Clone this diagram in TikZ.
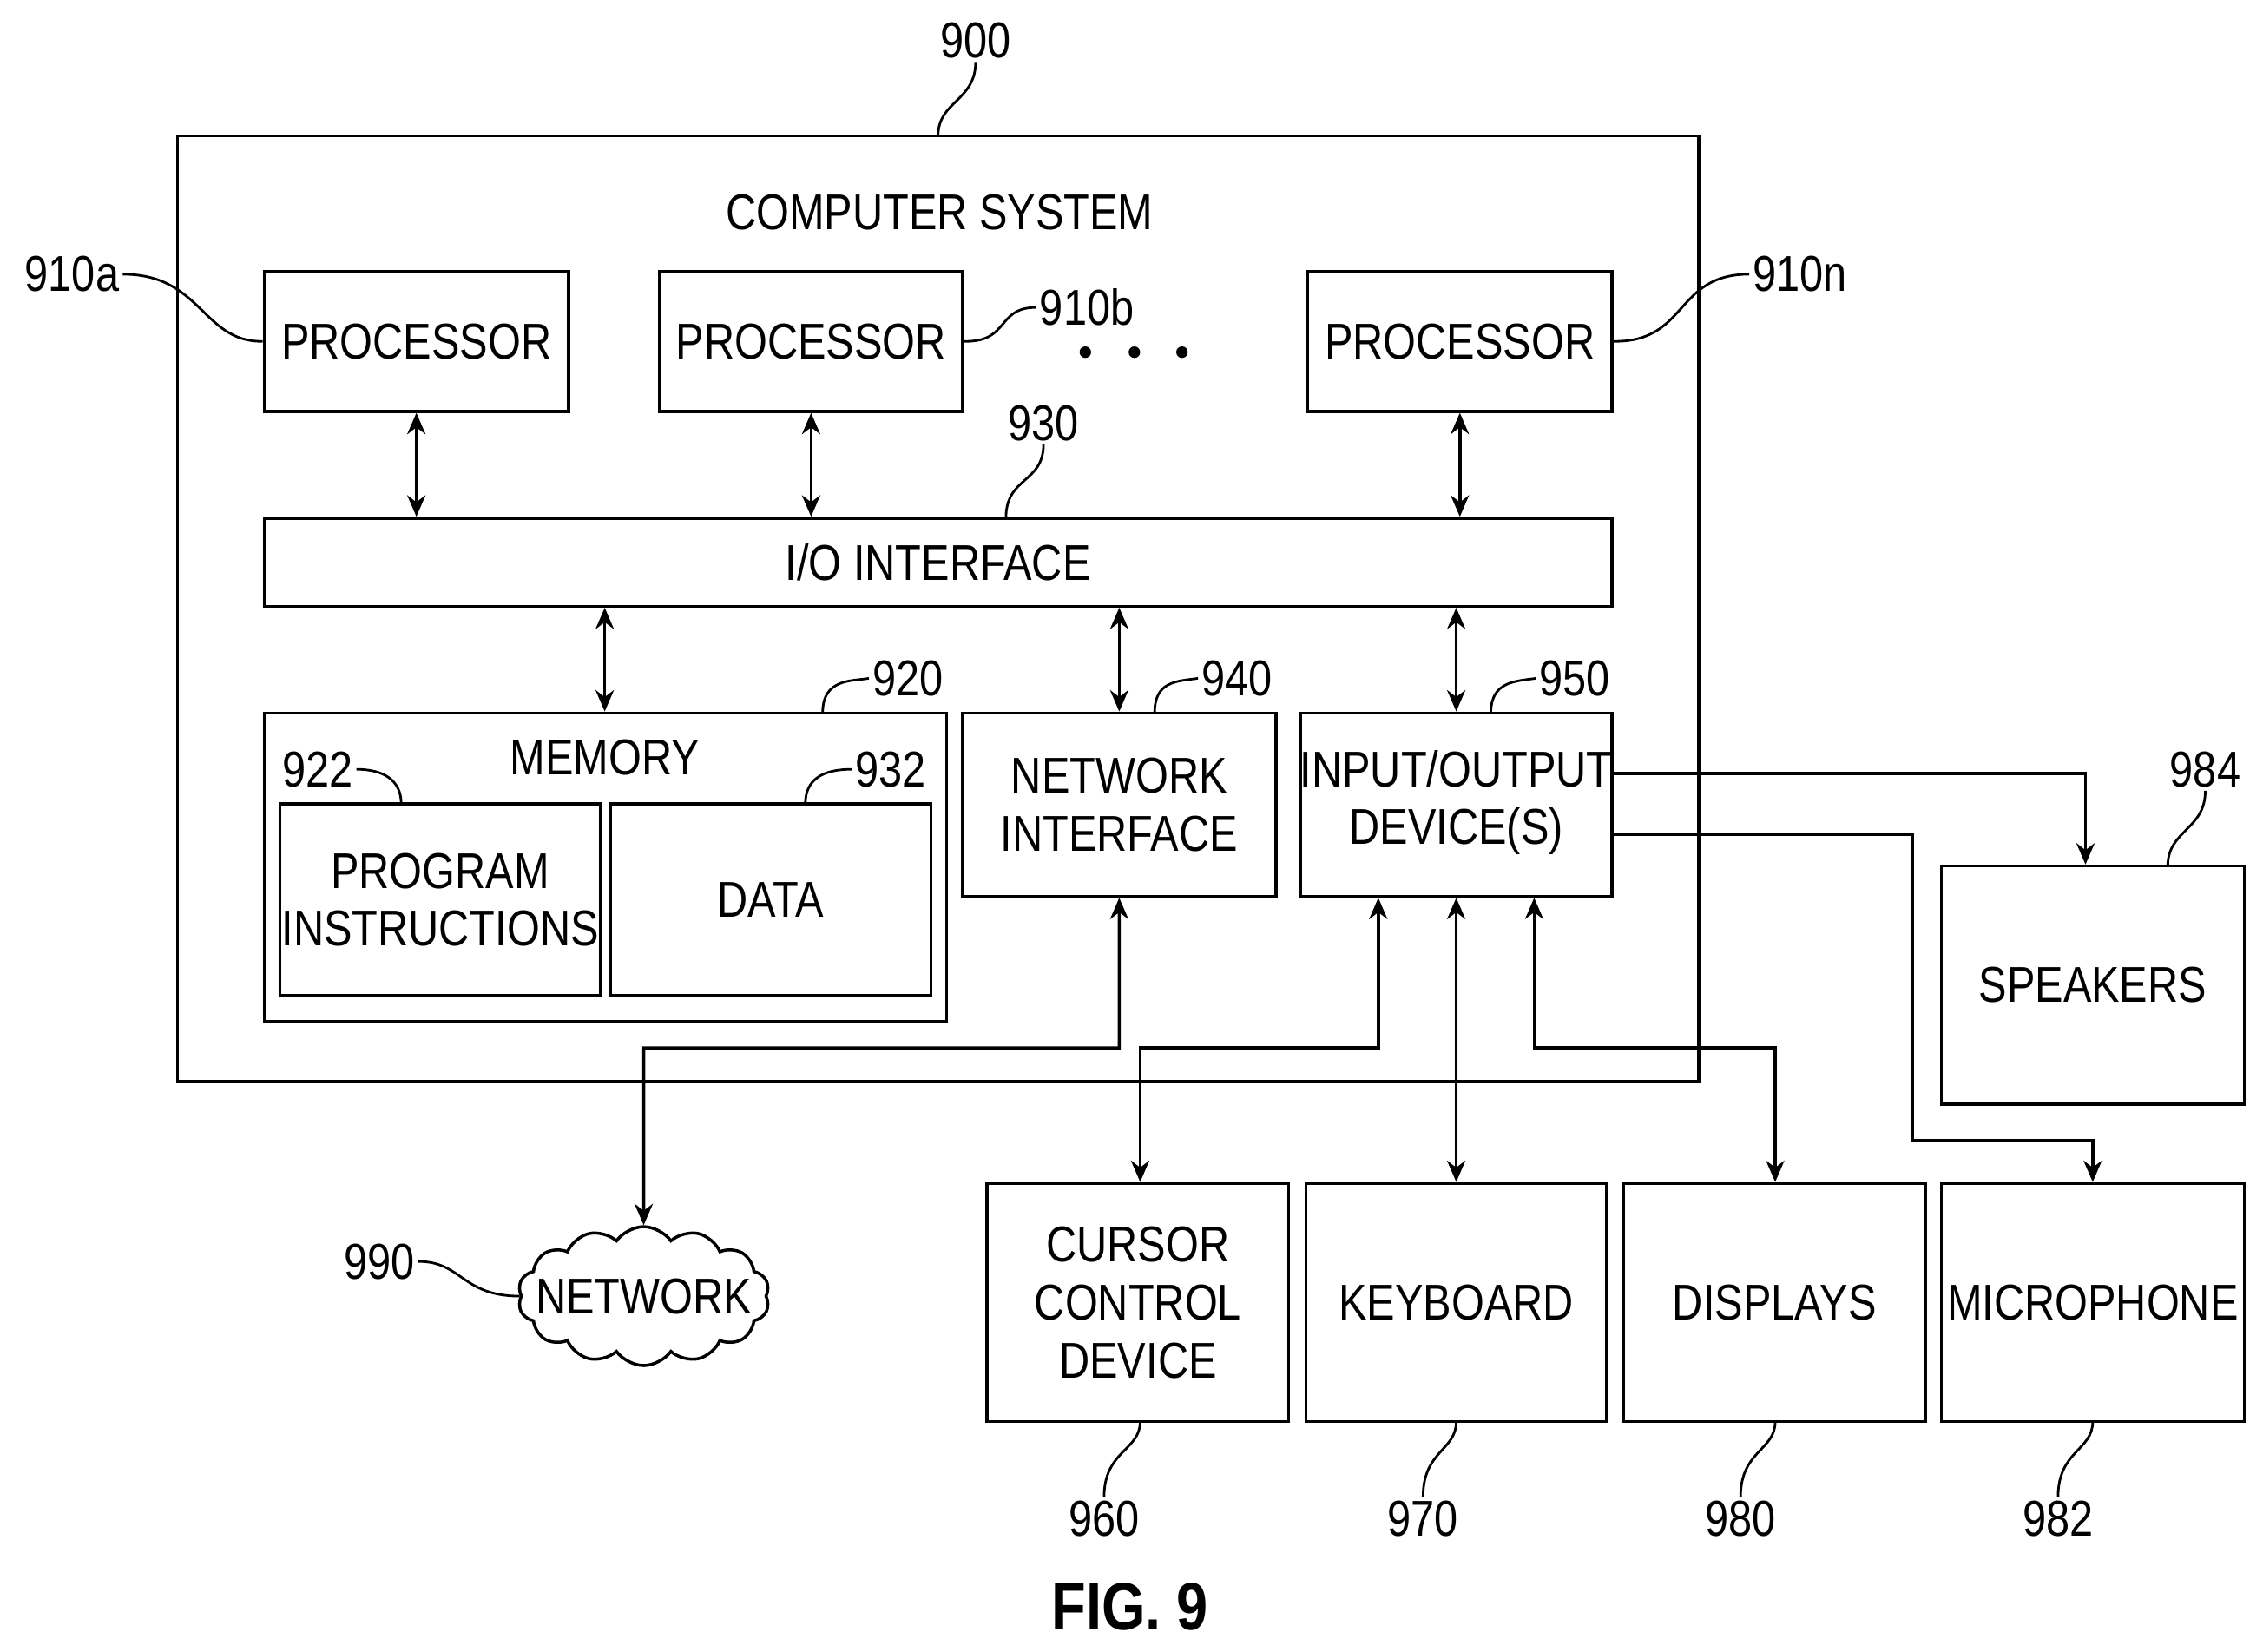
\documentclass[tikz,border=0pt]{standalone}
\usepackage{fontspec}
\setmainfont[FakeStretch=0.84]{Liberation Sans}
\usetikzlibrary{fit,arrows.meta,shapes.symbols}
\tikzset{
  box/.style={draw,line width=1pt,inner sep=0pt},
  txt/.style={align=center,font=\fontsize{16.5}{19}\selectfont,inner sep=0pt},
  num/.style={font=\fontsize{16.5}{19}\selectfont,inner sep=1pt},
  lead/.style={line width=0.8pt},
  link/.style={line width=1pt,{Stealth[length=7pt,width=6pt]}-{Stealth[length=7pt,width=6pt]}},
  flow/.style={line width=1pt,-{Stealth[length=7pt,width=6pt]}}
}
\begin{document}
\begin{tikzpicture}[x=0.01663cm,y=-0.01663cm]
    \useasboundingbox (0,0) rectangle (1568,1144);
    % computer system
    \node[box,fit={(123,94)(1177,749)}] (sys) {};
    \node[num] (l900) at (676,28) {900};
    \node[num] (title) at (651,147) {COMPUTER SYSTEM};
    \node[box,fit={(183,188)(394,285)},label={[txt]center:PROCESSOR}] (pa) {};
    \node[box,fit={(457,188)(667,285)},label={[txt]center:PROCESSOR}] (pb) {};
    \node[box,fit={(906,188)(1117,285)},label={[txt]center:PROCESSOR}] (pn) {};
    \foreach \x in {752,786,819} \fill (\x,244) circle (4);
    \node[box,fit={(183,359)(1117,420)},label={[txt]center:I/O INTERFACE}] (io) {};
    \node[box,fit={(183,494)(656,708)}] (mem) {};
    \node[num] (memt) at (419,525) {MEMORY};
    \node[box,fit={(194,557)(416,690)},label={[txt]center:PROGRAM\\INSTRUCTIONS}] (prog) {};
    \node[box,fit={(423,557)(645,690)},label={[txt]center:DATA}] (data) {};
    \node[box,fit={(667,494)(884,621)},label={[txt]center:NETWORK\\INTERFACE}] (ni) {};
    \node[box,fit={(901,494)(1117,621)}] (iod) {};
    \node[txt] (iodt) at (1009,556) {INPUT/OUTPUT\\DEVICE(S)};
    % peripherals
    \node[box,fit={(1345,600)(1555,765)},label={[txt]center:SPEAKERS}] (spk) {};
    \node[box,fit={(684,820)(893,985)},label={[txt]center:CURSOR\\CONTROL\\DEVICE}] (cur) {};
    \node[box,fit={(905,820)(1113,985)},label={[txt]center:KEYBOARD}] (kbd) {};
    \node[box,fit={(1125,820)(1334,985)},label={[txt]center:DISPLAYS}] (dsp) {};
    \node[box,fit={(1345,820)(1555,985)},label={[txt]center:MICROPHONE}] (mic) {};
    \node[draw,line width=1pt,cloud,cloud puffs=14,cloud puff arc=110,aspect=1.9,
          minimum width=2.9cm,minimum height=1.6cm,inner sep=0pt] (net) at (446,898) {};
    \node[txt] (nett) at (446,898) {NETWORK};
    % reference numerals
    \node[num,anchor=east] (l910a) at (85,190) {910a};
    \node[num,anchor=west] (l910b) at (718,213) {910b};
    \node[num,anchor=west] (l910n) at (1212,190) {910n};
    \node[num] (l930) at (723,293) {930};
    \node[num] (l920) at (629,470) {920};
    \node[num] (l922) at (220,533) {922};
    \node[num] (l932) at (617,533) {932};
    \node[num] (l940) at (857,470) {940};
    \node[num] (l950) at (1091,470) {950};
    \node[num] (l984) at (1528,533) {984};
    \node[num] (l960) at (765,1052) {960};
    \node[num] (l970) at (986,1052) {970};
    \node[num] (l980) at (1206,1052) {980};
    \node[num] (l982) at (1426,1052) {982};
    \node[num,anchor=east] (l990) at (290,874) {990};
    \node[font=\bfseries\fontsize{22}{24}\selectfont] (fig) at (783,1113) {FIG. 9};
    % leaders
    \draw[lead] (650,94) .. controls (650,70) and (676,70) .. (l900.south);
    \draw[lead] (l910a.east) .. controls (140,190) and (140,237) .. (pa.west);
    \draw[lead] (pb.east) .. controls (700,237) and (690,213) .. (l910b.west);
    \draw[lead] (pn.east) .. controls (1170,237) and (1160,190) .. (l910n.west);
    \draw[lead] (697,359) .. controls (697,330) and (723,335) .. (l930.south);
    \draw[lead] (570,494) .. controls (570,470) and (590,472) .. (l920.west);
    \draw[lead] (l922.east) .. controls (265,533) and (278,540) .. (278,557);
    \draw[lead] (558,557) .. controls (558,540) and (570,533) .. (l932.west);
    \draw[lead] (800,494) .. controls (800,472) and (815,472) .. (l940.west);
    \draw[lead] (1033,494) .. controls (1033,472) and (1050,472) .. (l950.west);
    \draw[lead] (1502,600) .. controls (1502,575) and (1528,575) .. (l984.south);
    \draw[lead] (790,985) .. controls (790,1005) and (765,1005) .. (l960.north);
    \draw[lead] (1009,985) .. controls (1009,1005) and (986,1005) .. (l970.north);
    \draw[lead] (1230,985) .. controls (1230,1005) and (1206,1005) .. (l980.north);
    \draw[lead] (1450,985) .. controls (1450,1005) and (1426,1005) .. (l982.north);
    \draw[lead] (l990.east) .. controls (320,874) and (320,898) .. (net.west);
    % connections
    \draw[link] (pa.south) -- (io.north -| pa.south);
    \draw[link] (pb.south) -- (io.north -| pb.south);
    \draw[link] (pn.south) -- (io.north -| pn.south);
    \draw[link] (io.south -| 419,0) -- (mem.north -| 419,0);
    \draw[link] (io.south -| ni.north) -- (ni.north);
    \draw[link] (io.south -| iod.north) -- (iod.north);
    \draw[link] (ni.south) |- (446,726) -- (net.north);
    \draw[link] (iod.south -| 955,0) |- (790,726) -- (cur.north -| 790,0);
    \draw[link] (iod.south) -- (kbd.north -| iod.south);
    \draw[link] (iod.south -| 1063,0) |- (1230,726) -- (dsp.north -| 1230,0);
    \draw[flow] (iod.east |- 0,536) -| (spk.north -| 1445,0);
    \draw[flow] (iod.east |- 0,578) -| (1325,790) -| (mic.north -| 1450,0);
\end{tikzpicture}
\end{document}
